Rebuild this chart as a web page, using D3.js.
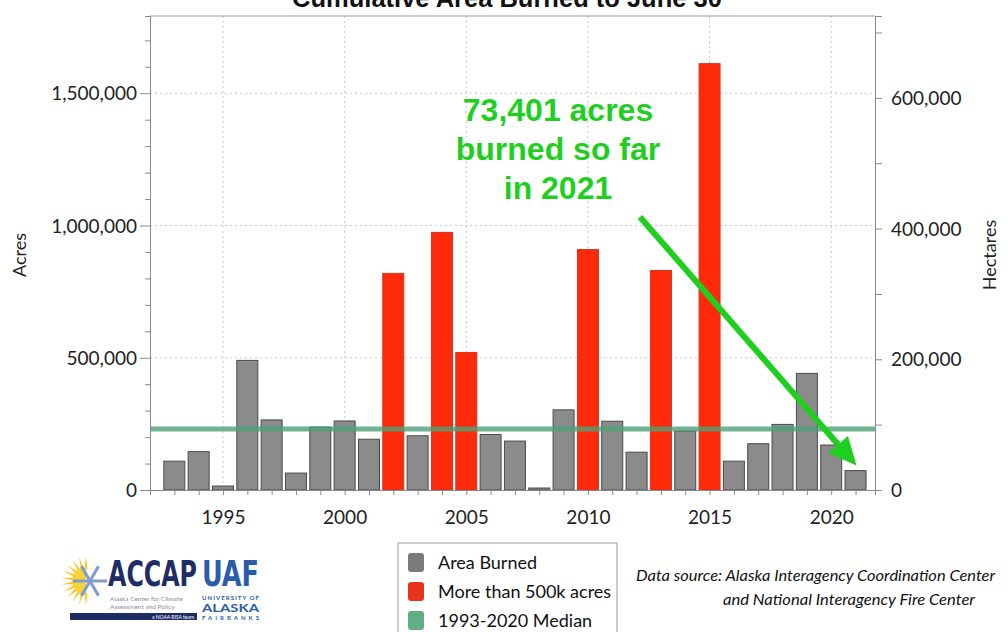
<!DOCTYPE html>
<html>
<head>
<meta charset="utf-8">
<script src="https://cdn.jsdelivr.net/npm/d3@7"></script>
<style>
  body { margin: 0; background: #fff; }
  text { font-family: Lato, 'Open Sans', sans-serif; }
</style>
</head>
<body>
<div class="container"></div>
<script>
const width = 1008;
const height = 632;
const margin = { top: 16, right: 133, bottom: 142, left: 150 };

// dados
const years = [1993, 1994, 1995, 1996, 1997, 1998, 1999, 2000, 2001, 2002,
  2003, 2004, 2005, 2006, 2007, 2008, 2009, 2010, 2011, 2012,
  2013, 2014, 2015, 2016, 2017, 2018, 2019, 2020, 2021];
const acres = [109000, 145000, 15000, 490000, 265000, 64000, 238000, 261000, 192000, 819000,
  205000, 974000, 520000, 210000, 185000, 7500, 303000, 909000, 260000, 143000,
  830000, 223000, 1612000, 109000, 175000, 248000, 441000, 170000, 73401];
const acreTicks = [0, 500000, 1000000, 1500000];
const hectareTicks = [0, 200000, 400000, 600000];
const yearTicks = [1995, 2000, 2005, 2010, 2015, 2020];
const legendItems = ['Area Burned', 'More than 500k acres', '1993-2020 Median'];
const ACRES_PER_HA = 2.471;
const LIMIT = 500000;

const x0 = margin.left;
const x1 = width - margin.right;
const y0 = height - margin.bottom;

const svg = d3.select('.container')
  .append('svg')
  .attr('width', width)
  .attr('height', height);

const x = d3.scaleLinear()
  .domain([1992, 2021.8])
  .range([x0, x1]);

const yMax = 1500000 + (93.3 - margin.top) / (397 / 1500000);
const y = d3.scaleLinear()
  .domain([0, yMax])
  .range([y0, margin.top]);

const yHa = d3.scaleLinear()
  .domain([0, yMax / ACRES_PER_HA])
  .range([y0, margin.top]);

// titulo (cortado no topo, como no original)
svg.append('text')
  .attr('x', 507)
  .attr('y', 7)
  .attr('text-anchor', 'middle')
  .style('font-family', 'Liberation Sans, Arial, sans-serif')
  .attr('font-weight', 'bold')
  .attr('font-size', 25.5)
  .attr('fill', '#111')
  .text('Cumulative Area Burned to June 30');

// grade
const grid = svg.append('g').attr('class', 'grid');
grid.selectAll('.hg')
  .data(acreTicks.slice(1))
  .enter()
  .append('line')
  .attr('x1', x0)
  .attr('x2', x1)
  .attr('y1', d => y(d))
  .attr('y2', d => y(d))
  .attr('stroke', '#c8c8c8')
  .attr('stroke-dasharray', '2,3');

grid.selectAll('.vg')
  .data(yearTicks)
  .enter()
  .append('line')
  .attr('x1', d => x(d))
  .attr('x2', d => x(d))
  .attr('y1', margin.top)
  .attr('y2', y0)
  .attr('stroke', '#c8c8c8')
  .attr('stroke-dasharray', '2,3');

// moldura superior
svg.append('line')
  .attr('x1', x0)
  .attr('x2', x1)
  .attr('y1', margin.top)
  .attr('y2', margin.top)
  .attr('stroke', '#999');

// barras
const data = years.map((yr, i) => ({ year: yr, value: acres[i] }));

svg.append('g')
  .selectAll('rect')
  .data(data)
  .enter()
  .append('rect')
  .attr('x', d => x(d.year) - 10.5)
  .attr('y', d => y(d.value))
  .attr('width', 21)
  .attr('height', d => y0 - y(d.value))
  .attr('fill', d => d.value > LIMIT ? '#ff2a0a' : '#8c8b8c')
  .attr('stroke', d => d.value > LIMIT ? '#d8321e' : '#4a4a4a')
  .attr('stroke-width', 1);

// mediana 1993-2020
const median = d3.median(data.filter(d => d.year <= 2020), d => d.value);
svg.append('line')
  .attr('x1', x0)
  .attr('x2', x1)
  .attr('y1', y(median))
  .attr('y2', y(median))
  .attr('stroke', '#4fa078')
  .attr('stroke-opacity', 0.8)
  .attr('stroke-width', 5);

// eixos
const axisColor = '#888';
const leftAxis = svg.append('g')
  .attr('transform', `translate(${x0},0)`)
  .call(d3.axisLeft(y).tickValues(d3.range(0, 1700001, 100000)).tickSize(5).tickFormat(''));
leftAxis.selectAll('.tick')
  .filter(d => acreTicks.includes(d))
  .select('line')
  .attr('x2', -10);
leftAxis.selectAll('.tick')
  .filter(d => acreTicks.includes(d))
  .append('text')
  .attr('x', -13)
  .attr('dy', '0.35em')
  .attr('text-anchor', 'end')
  .attr('fill', '#222')
  .attr('font-size', 19)
  .text(d => d3.format(',')(d));

const rightAxis = svg.append('g')
  .attr('transform', `translate(${x1},0)`)
  .call(d3.axisRight(yHa).tickValues(d3.range(0, 700001, 100000)).tickSize(7).tickFormat(''));
rightAxis.selectAll('.tick')
  .filter(d => hectareTicks.includes(d))
  .append('text')
  .attr('x', 16)
  .attr('dy', '0.35em')
  .attr('text-anchor', 'start')
  .attr('fill', '#222')
  .attr('font-size', 19)
  .text(d => d3.format(',')(d));

const bottomAxis = svg.append('g')
  .attr('transform', `translate(0,${y0})`)
  .call(d3.axisBottom(x).tickValues(years).tickSize(5).tickFormat(''));
bottomAxis.selectAll('.tick')
  .filter(d => yearTicks.includes(d))
  .append('text')
  .attr('y', 34)
  .attr('text-anchor', 'middle')
  .attr('fill', '#222')
  .attr('font-size', 19)
  .text(d => d);

[leftAxis, rightAxis, bottomAxis].forEach(a => {
  a.select('.domain').attr('stroke', axisColor);
  a.selectAll('.tick line').attr('stroke', axisColor);
});

// titulos dos eixos
svg.append('text')
  .attr('transform', `translate(26,255) rotate(-90)`)
  .attr('text-anchor', 'middle')
  .attr('font-size', 18)
  .attr('fill', '#222')
  .text('Acres');

svg.append('text')
  .attr('transform', `translate(996,255) rotate(-90)`)
  .attr('text-anchor', 'middle')
  .attr('font-size', 18)
  .attr('fill', '#222')
  .text('Hectares');

// anotacao
const green = '#1fcf1f';
const note = svg.append('text')
  .attr('text-anchor', 'middle')
  .attr('font-weight', 'bold')
  .attr('font-size', 32)
  .attr('fill', green)
  .style('font-family', 'Liberation Sans, Arial, sans-serif');
['73,401 acres', 'burned so far', 'in 2021'].forEach((t, i) => {
  note.append('tspan')
    .attr('x', 558)
    .attr('y', 121 + i * 39)
    .text(t);
});

// seta ate a barra de 2021
const last = data[data.length - 1];
const tip = [x(last.year) + 1, y(last.value) - 5];
const start = [640, 217];
const ang = Math.atan2(tip[1] - start[1], tip[0] - start[0]);
const headLen = 28;
const headW = 13;
const base = [tip[0] - headLen * Math.cos(ang), tip[1] - headLen * Math.sin(ang)];
svg.append('line')
  .attr('x1', start[0])
  .attr('y1', start[1])
  .attr('x2', base[0])
  .attr('y2', base[1])
  .attr('stroke', green)
  .attr('stroke-width', 6);
svg.append('polygon')
  .attr('points', [
    tip,
    [base[0] + headW * Math.sin(ang), base[1] - headW * Math.cos(ang)],
    [base[0] - headW * Math.sin(ang), base[1] + headW * Math.cos(ang)]
  ].map(p => p.join(',')).join(' '))
  .attr('fill', green);

// legenda
const legend = svg.append('g')
  .attr('transform', 'translate(398,543)');
legend.append('rect')
  .attr('width', 219)
  .attr('height', 100)
  .attr('fill', '#fff')
  .attr('stroke', '#999');
const swatch = ['#7b7b7b', '#e8321e', '#5fae85'];
legendItems.forEach((t, i) => {
  legend.append('rect')
    .attr('x', 10)
    .attr('y', 10 + i * 29)
    .attr('width', 16)
    .attr('height', 19)
    .attr('rx', 3)
    .attr('fill', swatch[i]);
  legend.append('text')
    .attr('x', 40)
    .attr('y', 26 + i * 29)
    .attr('font-size', 18)
    .attr('fill', '#111')
    .text(t);
});

// fonte dos dados
svg.append('text')
  .attr('x', 636)
  .attr('y', 581)
  .attr('font-size', 16)
  .attr('font-style', 'italic')
  .attr('fill', '#111')
  .attr('textLength', 359)
  .attr('lengthAdjust', 'spacingAndGlyphs')
  .text('Data source: Alaska Interagency Coordination Center');
svg.append('text')
  .attr('x', 723)
  .attr('y', 605)
  .attr('font-size', 16)
  .attr('font-style', 'italic')
  .attr('fill', '#111')
  .attr('textLength', 252)
  .attr('lengthAdjust', 'spacingAndGlyphs')
  .text('and National Interagency Fire Center');

// logo ACCAP / UAF (aproximado)
const logo = svg.append('g').attr('class', 'logo');
const sun = logo.append('g').attr('transform', 'translate(86,581)');
d3.range(12).forEach(k => {
  const a = Math.PI / 2 + k * Math.PI / 11;
  sun.append('polygon')
    .attr('points', [
      [Math.cos(a - 0.12) * 12, Math.sin(a - 0.12) * 12],
      [Math.cos(a) * 25, Math.sin(a) * 25],
      [Math.cos(a + 0.12) * 12, Math.sin(a + 0.12) * 12]
    ].map(p => p.join(',')).join(' '))
    .attr('fill', '#f7c623');
});
sun.append('path')
  .attr('d', d3.arc()({ innerRadius: 0, outerRadius: 14, startAngle: Math.PI, endAngle: 2 * Math.PI }))
  .attr('fill', '#f9d23a');
d3.range(6).forEach(k => {
  const a = k * Math.PI / 3;
  sun.append('line')
    .attr('x1', 4)
    .attr('y1', 0)
    .attr('x2', 4 + Math.cos(a) * 17)
    .attr('y2', Math.sin(a) * 17)
    .attr('stroke', '#7f9bd0')
    .attr('stroke-width', 3);
});

// ACCAP e UAF num so texto
const brand = logo.append('text')
  .attr('y', 586)
  .attr('font-size', 36)
  .attr('font-weight', 'bold')
  .style('font-family', 'DejaVu Sans Condensed, DejaVu Sans, sans-serif');
brand.append('tspan')
  .attr('x', 108)
  .attr('fill', '#1f2d66')
  .attr('textLength', 89)
  .attr('lengthAdjust', 'spacingAndGlyphs')
  .text('ACCAP');
brand.append('tspan')
  .attr('x', 202)
  .attr('fill', '#2a5caa')
  .attr('textLength', 57)
  .attr('lengthAdjust', 'spacingAndGlyphs')
  .text('UAF');

['Alaska Center for Climate', 'Assessment and Policy'].forEach((t, i) => {
  logo.append('text')
    .attr('x', 110)
    .attr('y', 601 + i * 8)
    .attr('font-size', 6.5)
    .attr('fill', '#8a8fa0')
    .text(t);
});
logo.append('rect')
  .attr('x', 70)
  .attr('y', 613)
  .attr('width', 127)
  .attr('height', 7)
  .attr('fill', '#1f2d66');
logo.append('text')
  .attr('x', 194)
  .attr('y', 618.5)
  .attr('text-anchor', 'end')
  .attr('font-size', 5)
  .attr('fill', '#fff')
  .text('a NOAA RISA team');
logo.append('text')
  .attr('x', 202)
  .attr('y', 600)
  .attr('font-size', 6)
  .attr('font-weight', 'bold')
  .attr('fill', '#2a5caa')
  .attr('textLength', 57)
  .text('UNIVERSITY OF');
logo.append('text')
  .attr('x', 202)
  .attr('y', 612)
  .attr('font-size', 12)
  .attr('font-weight', 'bold')
  .attr('fill', '#2a5caa')
  .attr('textLength', 57)
  .attr('lengthAdjust', 'spacingAndGlyphs')
  .text('ALASKA');
logo.append('text')
  .attr('x', 202)
  .attr('y', 620)
  .attr('font-size', 6)
  .attr('font-weight', 'bold')
  .attr('fill', '#2a5caa')
  .attr('textLength', 57)
  .text('FAIRBANKS');
</script>
</body>
</html>
